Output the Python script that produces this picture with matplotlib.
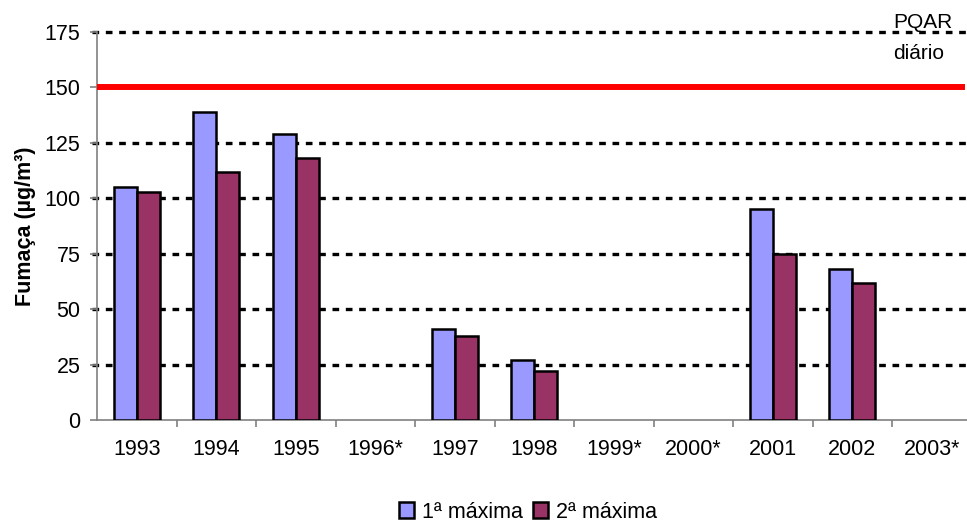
import numpy as np
import matplotlib
matplotlib.use('Agg')
import matplotlib.pyplot as plt

plt.rcParams['font.family'] = ['Liberation Sans', 'DejaVu Sans']

# dados (nan = sem dado)
anos = ['1993', '1994', '1995', '1996*', '1997', '1998', '1999*', '2000*',
        '2001', '2002', '2003*']
max1 = [105, 139, 129, np.nan, 41, 27, np.nan, np.nan, 95, 68, np.nan]
max2 = [103, 112, 118, np.nan, 38, 22, np.nan, np.nan, 75, 62, np.nan]
pqar = 150
yticks = [0, 25, 50, 75, 100, 125, 150, 175]

fig = plt.figure(figsize=(9.67, 5.23), dpi=100)
W, H = 967., 523.
ax = fig.add_axes([97/W, 1 - 420/H, 874.5/W, 388/H])

x = np.arange(len(anos))
wb = 0.29
ax.bar(x - wb/2, max1, wb, color='#9999FF', edgecolor='black',
       linewidth=1.8, label='1ª máxima', zorder=3)
ax.bar(x + wb/2, max2, wb, color='#993366', edgecolor='black',
       linewidth=1.8, label='2ª máxima', zorder=3)

# linhas de grade pontilhadas
for yv in yticks[1:]:
    if yv == pqar:
        continue
    ax.axhline(yv, color='black', lw=2.4, ls=(0, (2.0, 2.0)), zorder=1,
               clip_on=False, xmin=-5/874.5)
ax.axhline(pqar, color='#FF0000', lw=4.3, zorder=4, xmax=0.989)

ax.set_xlim(-0.5, len(anos) - 0.5)
ax.set_ylim(0, 175)
ax.set_yticks(yticks)
ax.set_xticks(x)
ax.set_xticklabels(anos)
ax.set_xticks(np.arange(len(anos)) + 0.5, minor=True)
ax.tick_params(axis='x', which='major', length=0, pad=14, labelsize=15.5)
ax.tick_params(axis='x', which='minor', length=5, color='#808080', width=1.2)
ax.tick_params(axis='y', length=5, color='#808080', width=1.2, pad=7,
               labelsize=15.5)

for s in ['top', 'right']:
    ax.spines[s].set_visible(False)
for s in ['left', 'bottom']:
    ax.spines[s].set_color('#808080')
    ax.spines[s].set_linewidth(1.2)

ax.set_ylabel('Fumaça (µg/m³)', fontsize=15.5, fontweight='bold', labelpad=6)

fig.text(893/W, 1 - 38/H, 'PQAR\ndiário', fontsize=15, ha='left',
         va='center', linespacing=1.75)

fig.legend(loc='center', bbox_to_anchor=(528/W, 1 - 512/H), ncol=2,
           frameon=False, fontsize=15.5, handlelength=0.7, handleheight=0.7,
           handletextpad=0.35, columnspacing=0.5, borderpad=0)

fig.savefig('out.png', dpi=100)
